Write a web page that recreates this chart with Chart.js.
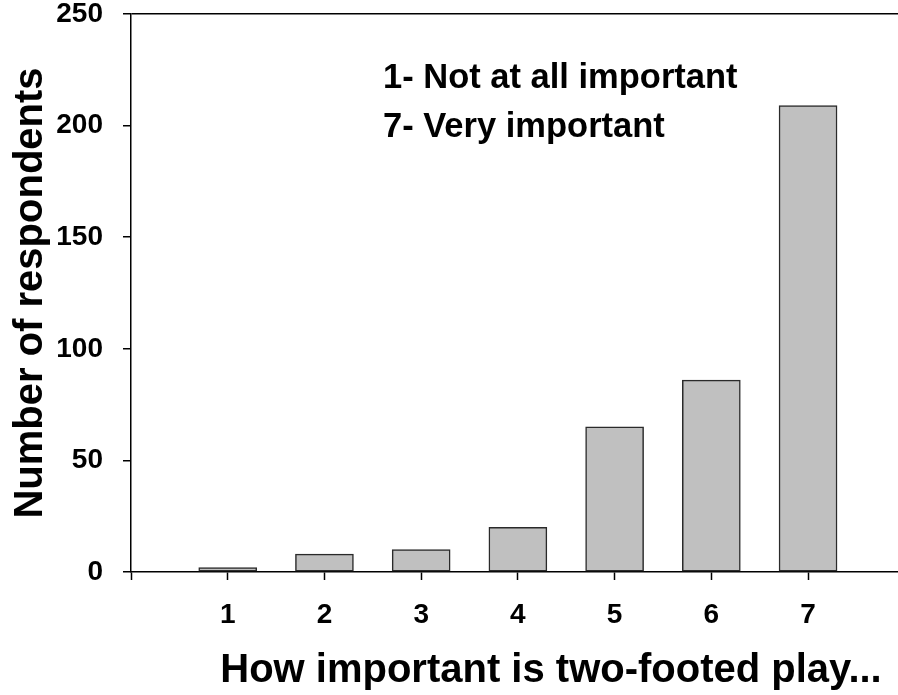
<!DOCTYPE html>
<html>
<head>
<meta charset="utf-8">
<title>Two-footed play</title>
<script src="https://cdn.jsdelivr.net/npm/chart.js@4/dist/chart.umd.min.js"></script>
<style>
    body { margin: 0; background: #fff; }
    #wrap { width: 898px; height: 695px; }
</style>
</head>
<body>
<div id="wrap"><canvas id="chart" width="898" height="695"></canvas></div>
<script>
const ratings = [1, 2, 3, 4, 5, 6, 7];
const respondents = [2, 8, 10, 20, 65, 86, 209];
const yTicks = [0, 50, 100, 150, 200, 250];
const noteLines = ["1- Not at all important", "7- Very important"];
const xTitle = "How important is two-footed play...";
const yTitle = "Number of respondents";

const fontFamily = "'Liberation Sans', Arial, Helvetica, sans-serif";

// text written on top of the plot (scale note + x axis title)
const textPlugin = {
    id: "chartText",
    afterDraw(chart) {
        const ctx = chart.ctx;
        const area = chart.chartArea;
        ctx.save();
        ctx.fillStyle = "#000";
        ctx.font = "bold 34.5px " + fontFamily;
        ctx.textAlign = "left";
        ctx.textBaseline = "middle";
        noteLines.forEach((line, i) => {
            ctx.fillText(line, area.left + 252, area.top + 64 + i * 49);
        });
        ctx.font = "bold 40px " + fontFamily;
        ctx.textAlign = "center";
        ctx.fillText(xTitle, 551, area.bottom + 99);
        ctx.restore();
    }
};

const ctx = document.getElementById("chart").getContext("2d");

new Chart(ctx, {
    type: "bar",
    data: {
        datasets: [{
            data: ratings.map((r, i) => ({ x: r, y: respondents[i] })),
            backgroundColor: "#c0c0c0",
            borderColor: "#2a2a2a",
            borderWidth: 1.5,
            borderSkipped: false,
            barThickness: 58
        }]
    },
    options: {
        responsive: false,
        animation: false,
        layout: { padding: { top: 14, left: 0, right: 0, bottom: 0 } },
        plugins: {
            legend: { display: false },
            tooltip: { enabled: false }
        },
        scales: {
            x: {
                type: "linear",
                min: 0,
                max: 7.93,
                offset: false,
                afterFit(scale) {
                    scale.height = 123;
                    scale.paddingLeft = 0;
                    scale.paddingRight = 0;
                },
                border: { display: true, color: "#000", width: 1.5 },
                grid: {
                    offset: false,
                    drawOnChartArea: false,
                    drawTicks: true,
                    tickLength: 8,
                    tickColor: "#000",
                    tickWidth: 1.5
                },
                ticks: {
                    stepSize: 1,
                    includeBounds: false,
                    autoSkip: false,
                    maxRotation: 0,
                    padding: 18,
                    color: "#000",
                    font: { family: fontFamily, size: 28, weight: "bold" },
                    callback: (v) => (ratings.includes(v) ? String(v) : "")
                }
            },
            y: {
                min: yTicks[0],
                max: yTicks[yTicks.length - 1],
                afterFit(scale) {
                    scale.width = 131;
                    scale.paddingTop = 0;
                    scale.paddingBottom = 0;
                },
                afterBuildTicks(scale) { scale.ticks = yTicks.map(v => ({ value: v })); },
                border: { display: true, color: "#000", width: 1.5 },
                grid: {
                    drawOnChartArea: true,
                    tickLength: 8,
                    color: (c) => (c.tick && c.tick.value === 250 ? "#000" : "rgba(0,0,0,0)"),
                    lineWidth: 1.5,
                    tickColor: "#000",
                    tickWidth: 1.5
                },
                ticks: {
                    padding: 20,
                    color: "#000",
                    font: { family: fontFamily, size: 28, weight: "bold" }
                },
                title: {
                    display: true,
                    text: yTitle,
                    color: "#000",
                    padding: { top: 7, bottom: 0 },
                    font: { family: fontFamily, size: 40, weight: "bold" }
                }
            }
        }
    },
    plugins: [textPlugin]
});
</script>
</body>
</html>
